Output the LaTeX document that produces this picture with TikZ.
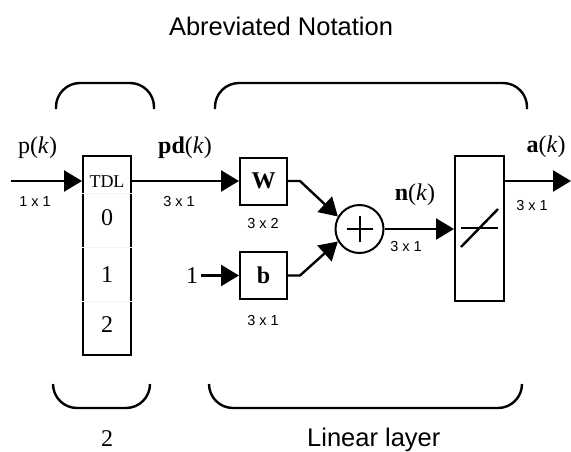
\documentclass[tikz,border=0pt]{standalone}
\usepackage{fontspec}
\setmainfont{Liberation Serif}
\setsansfont{Liberation Sans}
\usetikzlibrary{arrows.meta}
\tikzset{
  arr/.style={line width=2.4pt,-{Triangle[length=18pt,width=21pt]}},
  blk/.style={draw,line width=2pt,minimum width=47pt,minimum height=47pt,inner sep=0pt},
  lab/.style={font=\fontsize{24}{24}\selectfont,inner sep=0pt,anchor=base},
  dimtxt/.style={font=\sffamily\fontsize{14.5}{14.5}\selectfont,inner sep=0pt,anchor=base},
  brk/.style={line width=2.4pt,rounded corners=24pt},
  captxt/.style={font=\sffamily\fontsize{25.5}{25.5}\selectfont,inner sep=0pt}
}
\begin{document}
\begin{tikzpicture}[x=1pt,y=-1pt]
\useasboundingbox (0,0) rectangle (571,451);
% title
\node[captxt,anchor=base] (title) at (281,35) {Abreviated Notation};
% brackets
\draw[brk] (56,109) -- (56,83) -- (154,83) -- (154,109);
\draw[brk] (215,109) -- (215,83) -- (527,83) -- (527,109);
\draw[brk] (53,384) -- (53,408) -- (150,408) -- (150,384);
\draw[brk] (209,384) -- (209,408) -- (522,408) -- (522,384);
\node[lab] (two) at (107,446) {2};
\node[captxt,anchor=base west] (linlab) at (307,446) {Linear layer};
% TDL block
\node[draw,line width=2pt,minimum width=48pt,minimum height=199pt,inner sep=0pt] (tdl) at (107,255.5) {};
\draw[gray!7,line width=0.6pt] (tdl.west |- 0,193) -- (tdl.east |- 0,193);
\draw[gray!7,line width=0.6pt] (tdl.west |- 0,247) -- (tdl.east |- 0,247);
\draw[gray!7,line width=0.6pt] (tdl.west |- 0,301) -- (tdl.east |- 0,301);
\node[font=\fontsize{18}{18}\selectfont,inner sep=0pt,anchor=base] (tdltxt) at (107,187) {TDL};
\node[lab] (d0) at (107,225) {0};
\node[lab] (d1) at (107,282) {1};
\node[lab] (d2) at (107,332) {2};
% input
\coordinate (in) at (11,181);
\draw[arr] (in) -- (in -| tdl.west);
\node[lab] (pk) at (37.5,153) {p(\textit{k})};
\node[dimtxt] (dimin) at (35,206) {1 x 1};
% W and b
\node[blk] (W) at (263.5,181) {};
\node[blk] (b) at (263.5,275.5) {};
\node[lab,font=\fontsize{24}{24}\selectfont\bfseries] (Wt) at (263.5,188) {W};
\node[lab,font=\fontsize{24}{24}\selectfont\bfseries] (bt) at (263.5,283) {b};
\draw[arr] (in -| tdl.east) -- (W.west);
\node[lab] (pd) at (185,153) {\textbf{pd}(\textit{k})};
\node[dimtxt] (dimpd) at (179,206) {3 x 1};
\node[lab] (one) at (192,283) {1};
\draw[arr] (one.east |- b.west) ++(3,0) -- (b.west);
\node[dimtxt] (dimW) at (263,228) {3 x 2};
\node[dimtxt] (dimb) at (263,325) {3 x 1};
% sum
\node[draw,circle,line width=2pt,minimum size=48pt,inner sep=0pt] (sum) at (359.5,229) {};
\draw[line width=2pt] ([xshift=-13pt]sum.center) -- ([xshift=13pt]sum.center);
\draw[line width=2pt] ([yshift=-13pt]sum.center) -- ([yshift=13pt]sum.center);
\draw[arr] (W.east) -- ++(12,0) -- (sum.150);
\draw[arr] (b.east) -- ++(12,0) -- (sum.210);
% transfer function
\node[draw,line width=2pt,minimum width=49pt,minimum height=145pt,inner sep=0pt] (tf) at (479.5,228.5) {};
\draw[line width=1.4pt] (461,228) -- (498,228);
\draw[line width=2.4pt] (461,247) -- (498,209);
\draw[arr] (sum.east) -- (sum.east -| tf.west);
\node[lab] (nk) at (415,200) {\textbf{n}(\textit{k})};
\node[dimtxt] (dimn) at (406,251) {3 x 1};
% output
\coordinate (out) at (571,181);
\draw[arr] (out -| tf.east) -- (out);
\node[lab] (ak) at (546,152) {\textbf{a}(\textit{k})};
\node[dimtxt] (dima) at (532,210) {3 x 1};
\end{tikzpicture}
\end{document}
